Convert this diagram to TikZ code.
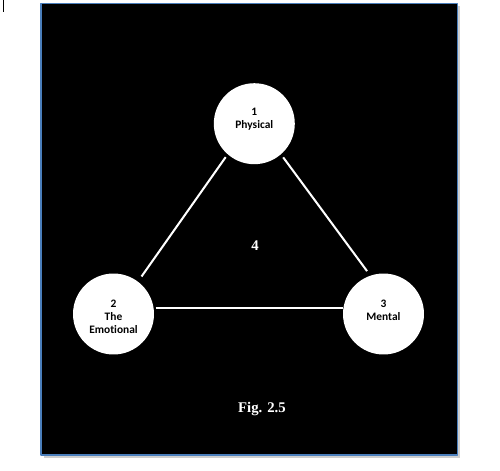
\documentclass[tikz,border=0pt]{standalone}
\usepackage{fontspec}
\setmainfont{Liberation Serif}
\newfontfamily\calfont[Ligatures=NoCommon]{Carlito}
\usetikzlibrary{calc, positioning}
\definecolor{frameblue}{HTML}{4A7EBB}
\definecolor{shadowgray}{HTML}{CFCFCF}
\tikzset{
  every picture/.style={line cap=round, line join=round},
  panel/.style={fill=black, draw=frameblue, line width=0.6pt},
  stage/.style={circle, fill=white, minimum size=1.62cm, inner sep=0pt},
  % labels sit at the top of the circle
  tag/.style={anchor=north, inner sep=0pt, align=center,
    font=\calfont\bfseries\fontsize{6.5}{7.6}\selectfont},
  link/.style={draw=white, line width=1.15pt, line cap=butt},
  serifbold/.style={anchor=base, inner sep=0pt, white,
    font=\bfseries\fontsize{8.4}{10}\selectfont},
}

\begin{document}
\begin{tikzpicture}[x=0.02cm, y=-0.02cm]
  \useasboundingbox (0,0) rectangle (500,470);
  % ---------------- page and panel
  \fill[white] (0,0) rectangle (500,470);
  \draw[line width=0.5pt, line cap=butt] (3.3,0) -- (3.3,11.7);
  \fill[shadowgray] (43.5,6) rectangle (460,457.5);
  \draw[panel] (41,3.5) rectangle (457.5,455);
  % ---------------- circles
  \node[stage] (phys) at (254.3,123.7) {};
  \node[stage] (emo) at (113.5,314) {};
  \node[stage] (ment) at (383.5,314) {};
  \node[tag] (physT) at ($(phys.center)+(0,-16)$) {1\\Physical};
  \node[tag] (emoT) at ($(emo.center)+(0,-14.7)$) {2\\The\\Emotional};
  \node[tag] (mentT) at ($(ment.center)+(0,-14.7)$) {3\\Mental};
  % ---------------- connecting lines
  \draw[link, shorten <=1.8pt, shorten >=3.4pt] (phys.229) -- (emo.53);
  \draw[link, shorten <=2pt, shorten >=3pt] (phys.311) -- (ment.109);
  \draw[link, shorten <=1pt] (emo.9) -- (ment.171);
  % ---------------- labels
  \node[serifbold] (inner) at (255,250) {4};
  \node[serifbold] (caption) at (262,412.5) {Fig. 2.5};
\end{tikzpicture}
\end{document}
